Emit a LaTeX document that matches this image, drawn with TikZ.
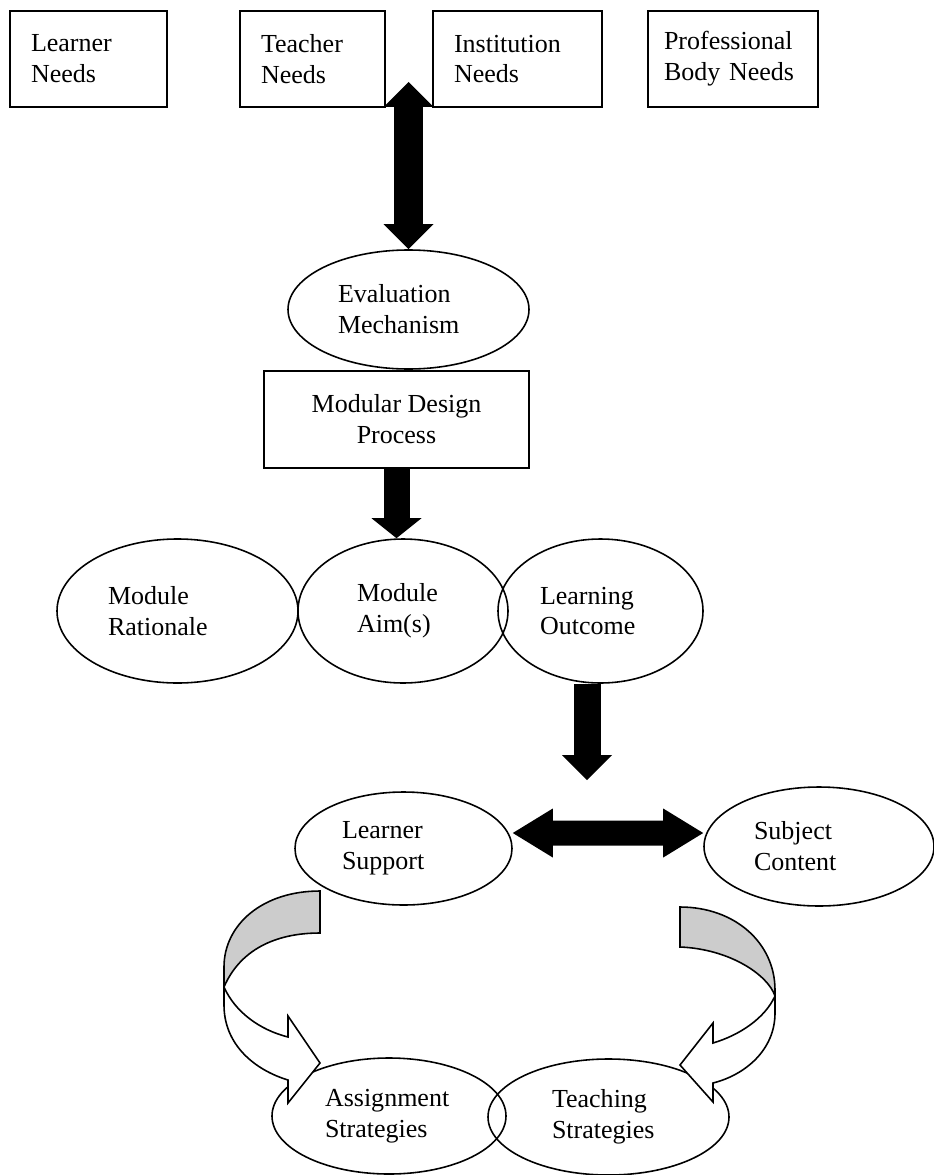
\documentclass[tikz,border=0pt]{standalone}
\usepackage{fontspec}
\setmainfont{Liberation Serif}
\usetikzlibrary{shapes.geometric,arrows.meta}
\definecolor{bandgray}{gray}{0.8}
\begin{document}
\begin{tikzpicture}
		[every node/.style={draw,line width=0.9pt,inner sep=2pt,font=\fontsize{14.8}{17.6}\selectfont},
		box/.style={rectangle,align=left,inner xsep=0.42cm,minimum height=1.92cm},
		oval/.style={ellipse,align=left},
		fat/.style={line width=#1},
		Big/.tip={Triangle[length=0.5cm,width=1cm,line width=0pt]},
		Wide/.tip={Triangle[length=0.8cm,width=0.98cm,line width=0pt]},
		band/.style={draw,line width=0.9pt}] % every node is drawn, box and oval only set the shape
	
	\useasboundingbox (0,0) rectangle (18.68,-23.5);
	
	\node[box,text width=2.3cm] (n1) at (1.77,-1.18) {Learner\\Needs};
	\node[box,text width=2.06cm] (n2) at (6.25,-1.18) {Teacher\\Needs};
	\node[box,text width=2.54cm] (n3) at (10.35,-1.18) {Institution\\Needs};
	\node[box,text width=2.76cm,inner xsep=0.32cm] (n4) at (14.66,-1.18) {Professional\\Body Needs};
	
	\node[oval,text width=2.82cm,minimum width=4.82cm,minimum height=2.38cm] (e1) at (8.17,-6.19) {Evaluation\\Mechanism};
	\node[rectangle,align=center,minimum width=5.3cm,minimum height=1.94cm] (m1) at (7.93,-8.39) {Modular Design\\Process};
	
	\node[oval,text width=2.78cm,minimum width=4.82cm,minimum height=2.88cm] (o1) at (3.55,-12.22) {Module\\Rationale};
	\node[oval,text width=1.84cm,minimum width=4.2cm,minimum height=2.88cm] (o2) at (8.06,-12.22) {Module\\Aim(s)};
	\node[oval,text width=2.42cm,minimum width=4.1cm,minimum height=2.88cm] (o3) at (12.01,-12.22) {Learning\\Outcome};
	
	\node[oval,text width=2.46cm,minimum width=4.34cm,minimum height=2.26cm] (s1) at (8.07,-16.97) {Learner\\Support};
	\node[oval,text width=2.6cm,minimum width=4.6cm,minimum height=2.38cm] (s2) at (16.38,-16.93) {Subject\\Content};
	
	\node[oval,text width=2.56cm,minimum width=4.68cm,minimum height=2.32cm] (t1) at (7.78,-22.32) {Assignment\\Strategies};
	\node[oval,text width=2.26cm,minimum width=4.82cm,minimum height=2.32cm] (t2) at (12.17,-22.34) {Teaching\\Strategies};
	
	\coordinate (c1) at (8.17,-1.64);
	\coordinate (c2) at (11.74,-15.6);
	
	\draw[fat=0.58cm,Big-Big] (c1) -- (e1.north);
	\draw[fat=0.52cm,-{Triangle[length=0.4cm,width=1cm,line width=0pt]}] (m1.south) -- (m1.south |- o2.north);
	\draw[fat=0.54cm,-Big] (c2 |- o3.south) -- (c2);
	\draw[fat=0.5cm,Wide-Wide] ([yshift=0.31cm]s1.east) -- ([yshift=0.27cm]s2.west);
	
	\draw[band,fill=bandgray] (6.4,-17.82) .. controls (5.24,-17.82) and (4.48,-18.5) .. (4.48,-19.34) -- (4.48,-19.74) .. controls (4.8,-19.0) and (5.5,-18.66) .. (6.4,-18.66) -- cycle;
	\draw[band,fill=white] (4.48,-19.74) -- (4.48,-20.1) .. controls (4.48,-20.9) and (5.1,-21.4) .. (5.76,-21.6) -- (5.76,-22.06) -- (6.4,-21.26) -- (5.76,-20.32) -- (5.76,-20.74) .. controls (5.2,-20.6) and (4.7,-20.24) .. (4.48,-19.74) -- cycle;
	
	\draw[band,fill=bandgray] (13.6,-18.14) .. controls (14.7,-18.14) and (15.5,-18.86) .. (15.5,-19.8) -- (15.5,-19.92) .. controls (15.36,-19.5) and (14.6,-18.98) .. (13.6,-18.94) -- cycle;
	\draw[band,fill=white] (15.5,-19.92) -- (15.5,-20.26) .. controls (15.5,-21.0) and (14.9,-21.5) .. (14.26,-21.66) -- (14.26,-22.04) -- (13.6,-21.3) -- (14.26,-20.46) -- (14.26,-20.86) .. controls (14.8,-20.7) and (15.3,-20.36) .. (15.5,-19.92) -- cycle;
	
\end{tikzpicture}
\end{document}
